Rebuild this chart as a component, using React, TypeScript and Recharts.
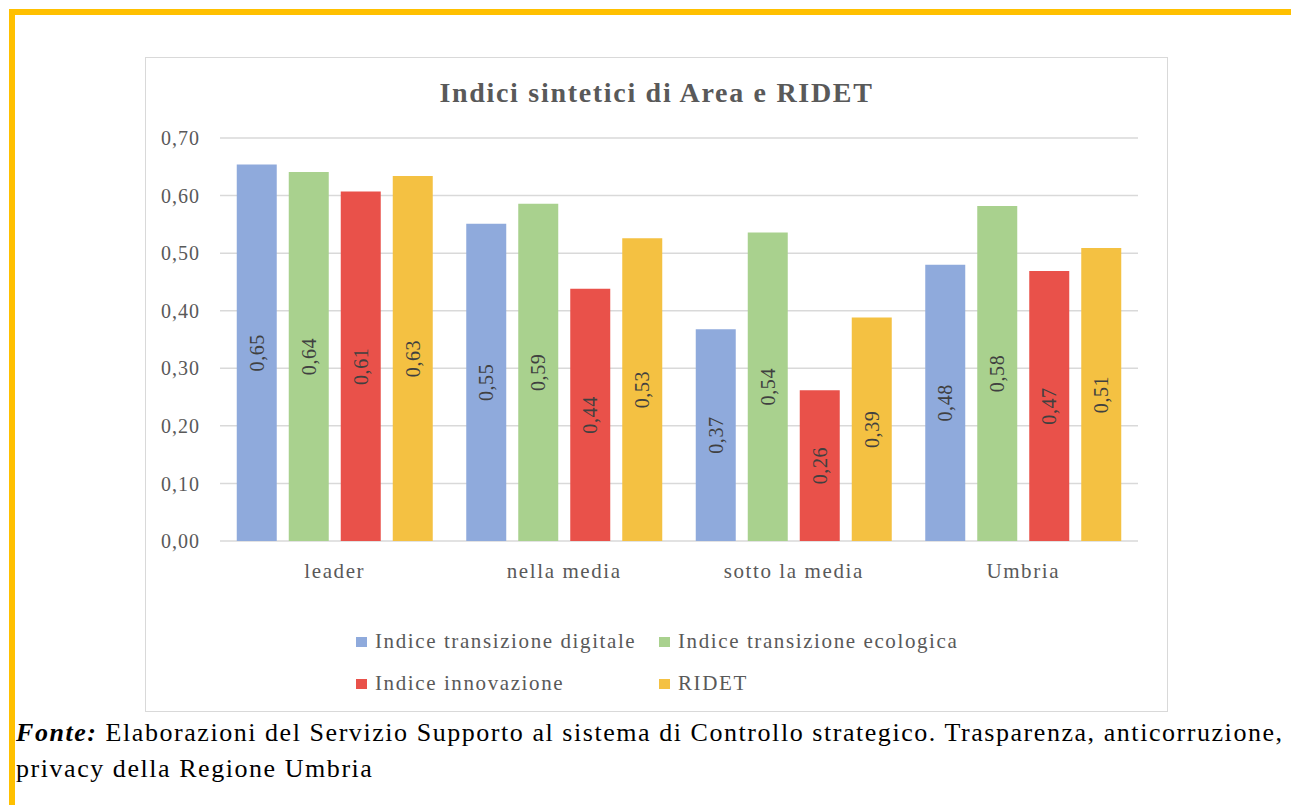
import React from "react"
import { BarChart, Bar, XAxis, YAxis, CartesianGrid, Legend, LabelList } from "recharts"

const categories = ["leader", "nella media", "sotto la media", "Umbria"]
const digitale = [0.654, 0.551, 0.368, 0.48]
const ecologica = [0.641, 0.586, 0.536, 0.582]
const innovazione = [0.607, 0.438, 0.262, 0.469]
const ridet = [0.634, 0.526, 0.388, 0.509]
const yTicks = [0, 0.1, 0.2, 0.3, 0.4, 0.5, 0.6, 0.7]

const series = [
  { key: "digitale", name: "Indice transizione digitale", color: "#8FAADC" },
  { key: "ecologica", name: "Indice transizione ecologica", color: "#A9D18E" },
  { key: "innovazione", name: "Indice innovazione", color: "#E9514A" },
  { key: "ridet", name: "RIDET", color: "#F4C142" },
]

const data = categories.map((c, i) => ({
  name: c,
  digitale: digitale[i],
  ecologica: ecologica[i],
  innovazione: innovazione[i],
  ridet: ridet[i],
}))

const FONT = "'Liberation Serif', 'Times New Roman', serif"
const fmt = (v: number) => v.toFixed(2).replace(".", ",")

// etichetta ruotata al centro della barra
const RotatedLabel = (props: any) => {
  const { x, y, width, height, value } = props
  const cx = x + width / 2
  const cy = y + height / 2
  return (
    <text
      x={cx}
      y={cy}
      transform={`rotate(-90, ${cx}, ${cy})`}
      textAnchor="middle"
      dominantBaseline="central"
      fill="#404040"
      fontSize={20}
      fontFamily={FONT}
      letterSpacing={0.6}
    >
      {fmt(value)}
    </text>
  )
}

const renderLegend = () => (
  <div
    style={{
      display: "grid",
      gridTemplateColumns: "303px 330px",
      rowGap: 19,
      fontFamily: FONT,
      fontSize: 21,
      color: "#595959",
      letterSpacing: 1.6,
    }}
  >
    {series.map((s) => (
      <div key={s.key} style={{ display: "flex", alignItems: "center", whiteSpace: "nowrap", height: 23 }}>
        <span style={{ width: 11, height: 10, background: s.color, marginRight: 8, display: "inline-block" }} />
        {s.name}
      </div>
    ))}
  </div>
)

export default function App() {
  return (
    <div style={{ position: "absolute", left: 0, top: 0, width: 1291, height: 805, background: "#fff", overflow: "hidden" }}>
      <div
        style={{
          position: "absolute",
          left: 9,
          top: 9,
          width: 1300,
          height: 820,
          borderTop: "6px solid #FFC000",
          borderLeft: "6px solid #FFC000",
        }}
      />
      <div
        style={{
          position: "absolute",
          left: 145,
          top: 57,
          width: 1023,
          height: 655,
          border: "1px solid #D9D9D9",
          boxSizing: "border-box",
        }}
      >
        <div
          style={{
            position: "absolute",
            left: 0,
            right: 0,
            top: 19,
            textAlign: "center",
            fontFamily: FONT,
            fontWeight: "bold",
            fontSize: 28,
            color: "#595959",
            letterSpacing: 1.7,
          }}
        >
          Indici sintetici di Area e RIDET
        </div>
        <BarChart
          width={1021}
          height={653}
          data={data}
          margin={{ top: 80, right: 29, left: 0, bottom: 130 }}
          barCategoryGap="7.3%"
          barGap={12}
        >
          <CartesianGrid horizontal vertical={false} stroke="#D9D9D9" strokeWidth={1.5} />
          <XAxis
            dataKey="name"
            axisLine={false}
            tickLine={false}
            height={40}
            tickSize={0}
            tickMargin={22}
            tick={{ fill: "#595959", fontSize: 21, fontFamily: FONT, letterSpacing: 1.6 }}
          />
          <YAxis
            domain={[0, 0.7]}
            ticks={yTicks}
            width={74}
            axisLine={false}
            tickLine={false}
            tickSize={0}
            tickMargin={20}
            tickFormatter={fmt}
            tick={{ fill: "#595959", fontSize: 20, fontFamily: FONT, letterSpacing: 1 }}
          />
          <Legend
            layout="horizontal"
            verticalAlign="middle"
            content={renderLegend}
            wrapperStyle={{ left: 210, top: 572, width: 650 }}
          />
          {series.map((s) => (
            <Bar key={s.key} dataKey={s.key} name={s.name} fill={s.color} isAnimationActive={false}>
              <LabelList dataKey={s.key} content={RotatedLabel} />
            </Bar>
          ))}
        </BarChart>
      </div>
      <div
        style={{
          position: "absolute",
          left: 16,
          top: 715,
          width: 1500,
          fontFamily: FONT,
          fontSize: 26,
          lineHeight: "36px",
          color: "#000",
          letterSpacing: 1.55,
          whiteSpace: "nowrap",
        }}
      >
        <b>
          <i>Fonte:</i>
        </b>{" "}
        Elaborazioni del Servizio Supporto al sistema di Controllo strategico. Trasparenza, anticorruzione,
        <br />
        privacy della Regione Umbria
      </div>
    </div>
  )
}
